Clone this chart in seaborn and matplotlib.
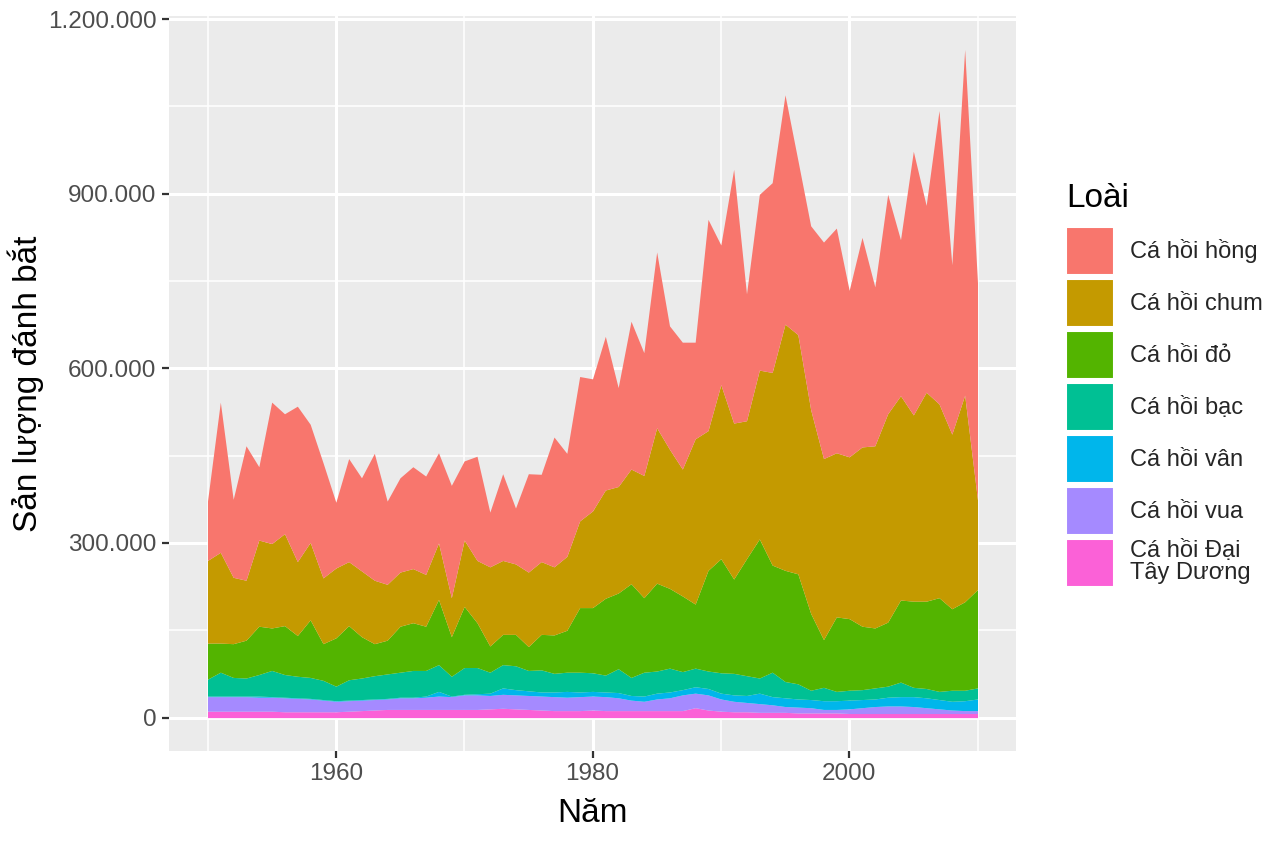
import numpy as np
import pandas as pd
import matplotlib
matplotlib.use("Agg")
import matplotlib.pyplot as plt
from matplotlib.patches import Patch
from matplotlib.ticker import FuncFormatter, FixedLocator
import seaborn as sns

years = list(range(1950, 2011))

pink = [102, 258, 134, 231, 126, 243, 206, 267, 203, 198,
        113, 177, 160, 218, 143, 162, 175, 169, 155, 193,
        136, 179, 94, 149, 96, 169, 150, 223, 177, 248,
        227, 264, 170, 254, 211, 302, 212, 218, 166, 363,
        240, 436, 218, 302, 326, 394, 300, 316, 372, 386,
        286, 360, 273, 377, 268, 453, 321, 504, 291, 594, 373]
chum = [142, 156, 114, 103, 148, 145, 158, 127, 133, 113,
        120, 110, 113, 109, 96, 93, 93, 89, 97, 67,
        114, 107, 136, 127, 121, 128, 125, 117, 127, 149,
        166, 186, 183, 197, 210, 267, 239, 218, 284, 240,
        299, 268, 237, 290, 331, 423, 411, 350, 311, 282,
        278, 308, 313, 358, 351, 320, 359, 333, 300, 355, 154]
sockeye = [62, 50, 58, 65, 83, 73, 84, 70, 99, 63,
           83, 93, 71, 55, 58, 79, 82, 76, 112, 68,
           105, 77, 45, 52, 54, 41, 61, 66, 72, 111,
           112, 132, 130, 161, 128, 151, 137, 130, 110, 173,
           196, 162, 201, 239, 184, 191, 189, 132, 82, 128,
           123, 109, 103, 110, 141, 148, 150, 161, 140, 152, 169]
coho = [29, 41, 32, 31, 37, 45, 39, 37, 36, 33,
        25, 35, 37, 40, 42, 43, 46, 44, 46, 34,
        46, 45, 36, 40, 41, 35, 38, 32, 33, 34,
        32, 29, 41, 31, 41, 38, 41, 31, 32, 30,
        35, 37, 34, 26, 42, 28, 26, 16, 23, 16,
        17, 17, 19, 19, 25, 16, 16, 14, 19, 18, 19]
steelhead = [1, 1, 1, 1, 2, 1, 1, 1, 1, 1,
             1, 1, 1, 1, 1, 1, 1, 2, 8, 1,
             1, 2, 4, 11, 9, 8, 7, 8, 10, 8,
             8, 8, 9, 8, 9, 10, 10, 9, 11, 11,
             10, 11, 12, 18, 14, 15, 14, 14, 15, 15,
             15, 14, 13, 15, 16, 17, 17, 16, 15, 17, 20]
chinook = [25, 25, 25, 25, 24, 24, 24, 23, 22, 20,
           18, 18, 18, 18, 18, 20, 20, 21, 23, 22,
           25, 25, 23, 24, 24, 24, 24, 24, 23, 24,
           24, 24, 22, 18, 16, 20, 22, 27, 25, 26,
           21, 18, 16, 15, 13, 10, 10, 9, 6, 6,
           8, 10, 12, 13, 13, 12, 10, 8, 6, 5, 5]
atlantic = [11, 11, 11, 11, 11, 11, 10, 10, 10, 10,
            10, 11, 12, 13, 14, 14, 14, 14, 14, 14,
            14, 14, 15, 16, 15, 14, 13, 12, 12, 12,
            13, 12, 12, 12, 12, 12, 12, 12, 17, 13,
            11, 10, 10, 9, 9, 9, 8, 8, 8, 8,
            7, 7, 7, 7, 7, 7, 7, 7, 7, 7, 7]

species = ["Cá hồi hồng", "Cá hồi chum", "Cá hồi đỏ", "Cá hồi bạc",
           "Cá hồi vân", "Cá hồi vua", "Cá hồi Đại\nTây Dương"]
colors = ["#F8766D", "#C49A00", "#53B400", "#00C094",
          "#00B6EB", "#A58AFF", "#FB61D7"]

df = pd.DataFrame({"Năm": years})
for name, vals in zip(species, [pink, chum, sockeye, coho, steelhead, chinook, atlantic]):
    df[name] = np.array(vals) * 1000

sns.set_theme(style="darkgrid", rc={
    "axes.facecolor": "#EBEBEB",
    "grid.color": "white",
    "axes.edgecolor": "#EBEBEB",
    "axes.linewidth": 0,
})
plt.rcParams["font.family"] = ["Liberation Sans", "DejaVu Sans"]

fig = plt.figure(figsize=(12.64, 8.48), dpi=100)
ax = fig.add_axes([169 / 1264, 1 - 751 / 848, (1016 - 169) / 1264, (751 - 16) / 848])

order = species[::-1]
ax.stackplot(df["Năm"], [df[s] for s in order], colors=colors[::-1], linewidth=0)

ax.set_xlim(1947, 2013)
ax.set_ylim(-57400, 1205400)

ax.xaxis.set_major_locator(FixedLocator([1960, 1980, 2000]))
ax.xaxis.set_minor_locator(FixedLocator([1950, 1970, 1990, 2010]))
ax.yaxis.set_major_locator(FixedLocator([0, 300000, 600000, 900000, 1200000]))
ax.yaxis.set_minor_locator(FixedLocator([150000, 450000, 750000, 1050000]))
ax.yaxis.set_major_formatter(FuncFormatter(lambda v, p: f"{int(round(v)):,}".replace(",", ".")))

ax.grid(which="major", color="white", linewidth=2.2)
ax.grid(which="minor", color="white", linewidth=1.1)
ax.set_axisbelow(True)
for s in ax.spines.values():
    s.set_visible(False)

ax.tick_params(axis="both", which="major", length=5, width=1.6, color="#333333",
               labelsize=17.5, labelcolor="#4D4D4D", pad=4, direction="out",
               bottom=True, left=True)
ax.tick_params(axis="both", which="minor", length=0)

ax.set_xlabel("Năm", fontsize=24, color="black", labelpad=9)
ax.set_ylabel("Sản lượng đánh bắt", fontsize=24, color="black", labelpad=3)

fig.text(1066 / 1264, 1 - 183 / 848, "Loài", fontsize=24, color="black",
         ha="left", va="top")

handles = [Patch(facecolor=c, edgecolor="white", linewidth=1.5) for c in colors]
leg = fig.legend(handles, species, loc="upper left",
                 bbox_to_anchor=(1066 / 1264, 1 - 227 / 848),
                 frameon=False, fontsize=17,
                 handlelength=2.05, handleheight=2.75,
                 handletextpad=0.65, labelspacing=0.17, borderpad=0,
                 borderaxespad=0)
for t in leg.get_texts():
    t.set_linespacing(1.0)

fig.savefig("out.png", dpi=100)
